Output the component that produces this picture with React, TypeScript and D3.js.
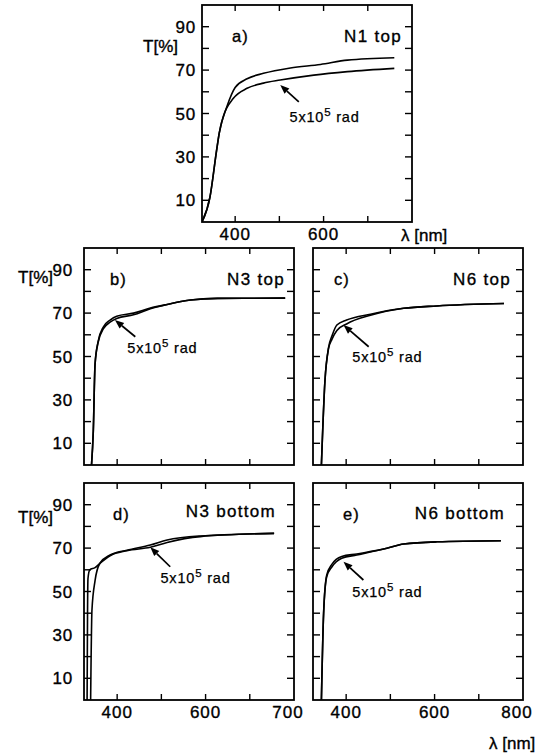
import React from 'react';
import * as d3 from 'd3';

// ---------- shared axes ----------
const X_DOMAIN: [number, number] = [325, 800];
const Y_DOMAIN: [number, number] = [0, 100];
const X_TICKS = [400, 500, 600, 700];
const Y_TICKS = [10, 20, 30, 40, 50, 60, 70, 80, 90];
const Y_LABELS = [10, 30, 50, 70, 90];

// ---------- panel a: N1 top ----------
const aLambda0 = [325, 343, 358, 364, 381, 400, 427, 464, 525, 593, 654, 760];
const aT0 = [0, 11.5, 33, 41, 53, 62, 66, 68.5, 71, 72.6, 74.6, 75.7];
const aLambda1 = [325, 343, 358, 364, 373, 396, 427, 464, 502, 578, 654, 760];
const aT1 = [0, 11.5, 33, 41, 48.5, 57, 61.6, 64, 65.4, 67.7, 69.3, 70.8];

// ---------- panel b: N3 top ----------
const bLambda = [342, 346, 350, 357, 369, 384, 399, 437, 475, 513, 566, 627, 780];
const bT0 = [0, 15.5, 46.5, 57, 63.7, 66.8, 68.6, 70, 72.3, 74, 76, 76.8, 76.9];
const bT1 = [0, 15.5, 46.5, 56.5, 62.8, 65.8, 67.5, 69.2, 72, 74, 76, 76.8, 76.9];

// ---------- panel c: N6 top ----------
const cLambda = [344, 352, 360, 368, 379, 401, 455, 530, 605, 757];
const cT0 = [0, 38.7, 54, 59.5, 64.5, 66.8, 69.5, 72.2, 73.3, 74.4];
const cT1 = [0, 38.7, 53.5, 58, 62, 65, 69, 72.2, 73.3, 74.4];

// ---------- panel d: N3 bottom ----------
const dLambda0 = [340, 343, 350, 361, 384, 422, 475, 513, 588, 755];
const dT0 = [0, 41.5, 55, 63, 66.8, 69, 71.4, 73.7, 75.6, 76.8];
const dLambda1 = [332, 333, 334, 338, 350, 361, 384, 422, 475, 513, 588, 755];
const dT1 = [0, 40, 56, 60, 61, 63, 66.5, 68.8, 70.4, 72.6, 75.3, 76.8];

// ---------- panel e: N6 bottom ----------
const eLambda = [344, 349, 356, 368, 390, 424, 492, 530, 605, 750];
const eT0 = [0, 40, 56.8, 61.4, 65.3, 66.8, 69.9, 71.9, 72.9, 73.4];
const eT1 = [0, 40, 57.5, 62.6, 66.1, 67.3, 69.9, 71.9, 72.9, 73.4];

// ---------- annotations (data units: [lambda, T]) ----------
const arrowA = { tail: [544, 55.4], tip: [502, 63.1], label: [523, 46] };
const arrowB = { tail: [441, 59.1], tip: [395, 66.8], label: [423, 51.6] };
const arrowC = { tail: [451, 54.5], tip: [394, 64.5], label: [414, 47.5] };
const arrowD = { tail: [520, 61.4], tip: [475, 70.4], label: [498, 54] };
const arrowE = { tail: [439, 55.3], tip: [394, 63.7], label: [414, 47.5] };

const xLabelsA = [{ v: 400, t: '400' }, { v: 600, t: '600' }];
const xLabelsD = [{ v: 400, t: '400' }, { v: 600, t: '600' }, { v: 800, t: '700' }];
const xLabelsE = [{ v: 400, t: '400' }, { v: 600, t: '600' }, { v: 800, t: '800' }];

const W = 210;
const H = 217;
const FONT = '"Liberation Sans", Arial, Helvetica, sans-serif';
const TXT = { stroke: '#000', strokeWidth: 0.35 };

const zip = (xs: number[], ys: number[]) => xs.map((x, i) => [x, ys[i]] as [number, number]);

type PanelProps = {
  x0: number; y0: number; tag: string; name: string;
  tagDx: number; nameDx: number; nameDy: number;
  series: [number, number][][];
  arrow: { tail: number[]; tip: number[]; label: number[] };
  yLabels: boolean; yLabelGap: number; tLabel?: { x: number; y: number };
  xLabels?: { v: number; t: string }[];
};

function Panel(p: PanelProps) {
  const xs = d3.scaleLinear().domain(X_DOMAIN).range([p.x0, p.x0 + W]);
  const ys = d3.scaleLinear().domain(Y_DOMAIN).range([p.y0 + H, p.y0]);
  const line = d3.line<[number, number]>().x(d => xs(d[0])).y(d => ys(d[1])).curve(d3.curveMonotoneX);
  const tx = xs(p.arrow.tail[0]), ty = ys(p.arrow.tail[1]);
  const hx = xs(p.arrow.tip[0]), hy = ys(p.arrow.tip[1]);
  const ang = Math.atan2(hy - ty, hx - tx);
  const hl = 9, hw = 3.6;
  const bx = hx - hl * Math.cos(ang), by = hy - hl * Math.sin(ang);
  const head = [
    [hx, hy],
    [bx + hw * Math.sin(ang), by - hw * Math.cos(ang)],
    [bx - hw * Math.sin(ang), by + hw * Math.cos(ang)],
  ].map(q => q.join(',')).join(' ');
  const tl = 6, yl = 7;
  return (
    <g>
      <defs>
        <clipPath id={'clip' + p.tag}>
          <rect x={p.x0} y={p.y0} width={W} height={H} />
        </clipPath>
      </defs>
      {X_TICKS.map(v => (
        <g key={'xt' + v} stroke="#000" strokeWidth={1.4}>
          <line x1={xs(v)} x2={xs(v)} y1={p.y0 + H} y2={p.y0 + H - tl} />
          <line x1={xs(v)} x2={xs(v)} y1={p.y0} y2={p.y0 + tl} />
        </g>
      ))}
      {Y_TICKS.map(v => (
        <g key={'yt' + v} stroke="#000" strokeWidth={1.4}>
          <line x1={p.x0} x2={p.x0 + yl} y1={ys(v)} y2={ys(v)} />
          <line x1={p.x0 + W} x2={p.x0 + W - yl} y1={ys(v)} y2={ys(v)} />
        </g>
      ))}
      <g clipPath={`url(#clip${p.tag})`}>
        {p.series.map((s, i) => (
          <path key={i} d={line(s) || ''} fill="none" stroke="#000" strokeWidth={1.6} />
        ))}
      </g>
      <rect x={p.x0} y={p.y0} width={W} height={H} fill="none" stroke="#000" strokeWidth={1.8} />
      <line x1={tx} y1={ty} x2={bx} y2={by} stroke="#000" strokeWidth={1.7} />
      <polygon points={head} fill="#000" />
      <text x={xs(p.arrow.label[0])} y={ys(p.arrow.label[1])} fontSize={14.5} letterSpacing={0.8} {...TXT} strokeWidth={0.25}>
        5x10<tspan dy={-6} fontSize={11.5}>5</tspan><tspan dy={6}> rad</tspan>
      </text>
      <text x={p.x0 + p.tagDx} y={p.y0 + 37} fontSize={16.5} letterSpacing={1} {...TXT}>{p.tag + ')'}</text>
      <text x={p.x0 + W - p.nameDx} y={p.y0 + p.nameDy} fontSize={17} letterSpacing={1.3} textAnchor="end" {...TXT}>{p.name}</text>
      {p.yLabels && Y_LABELS.map(v => (
        <text key={'yl' + v} x={p.x0 - p.yLabelGap} y={ys(v) + 6} fontSize={17} letterSpacing={0.8} textAnchor="end" {...TXT}>{v}</text>
      ))}
      {p.tLabel && (
        <text x={p.tLabel.x} y={p.tLabel.y} fontSize={17} textAnchor="end" {...TXT}>T[%]</text>
      )}
      {p.xLabels && p.xLabels.map((l, i) => (
        <text key={'xl' + i} x={xs(l.v) - (l.v === 800 ? 6 : 0)} y={p.y0 + H + 18} fontSize={17} letterSpacing={1} textAnchor="middle" {...TXT}>{l.t}</text>
      ))}
    </g>
  );
}

export default function App() {
  return (
    <svg width={539} height={755} style={{ position: 'absolute', left: 0, top: 0, background: '#fff' }}
      fontFamily={FONT}>
      <rect x={0} y={0} width={539} height={755} fill="#fff" />
      <Panel x0={202} y0={5} tag="a" name="N1 top" tagDx={30} nameDx={10} nameDy={37}
        series={[zip(aLambda0, aT0), zip(aLambda1, aT1)]} arrow={arrowA}
        yLabels yLabelGap={6} tLabel={{ x: 178, y: 52 }} xLabels={xLabelsA} />
      <text x={401} y={241} fontSize={17} {...TXT}>λ [nm]</text>
      <Panel x0={84} y0={248} tag="b" name="N3 top" tagDx={26} nameDx={9} nameDy={37}
        series={[zip(bLambda, bT0), zip(bLambda, bT1)]} arrow={arrowB}
        yLabels yLabelGap={11} tLabel={{ x: 53, y: 283 }} />
      <Panel x0={313} y0={248} tag="c" name="N6 top" tagDx={21} nameDx={12} nameDy={37}
        series={[zip(cLambda, cT0), zip(cLambda, cT1)]} arrow={arrowC}
        yLabels={false} yLabelGap={0} />
      <Panel x0={84} y0={483} tag="d" name="N3 bottom" tagDx={29} nameDx={18} nameDy={34}
        series={[zip(dLambda0, dT0), zip(dLambda1, dT1)]} arrow={arrowD}
        yLabels yLabelGap={11} tLabel={{ x: 53, y: 523 }} xLabels={xLabelsD} />
      <Panel x0={313} y0={483} tag="e" name="N6 bottom" tagDx={30} nameDx={18} nameDy={36}
        series={[zip(eLambda, eT0), zip(eLambda, eT1)]} arrow={arrowE}
        yLabels={false} yLabelGap={0} xLabels={xLabelsE} />
      <text x={489} y={749} fontSize={17} {...TXT}>λ [nm]</text>
    </svg>
  );
}
